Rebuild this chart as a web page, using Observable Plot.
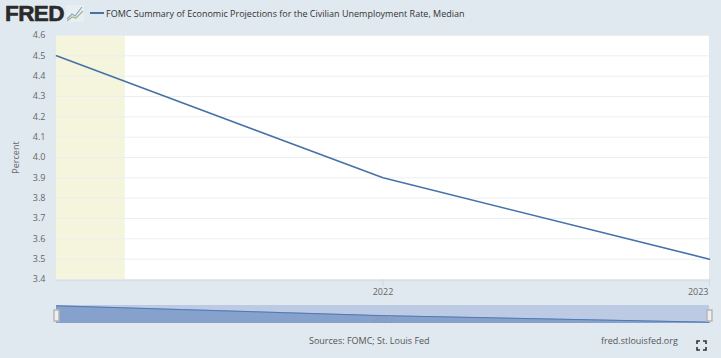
<!DOCTYPE html>
<html><head><meta charset="utf-8">
<script src="https://cdn.jsdelivr.net/npm/d3@7"></script>
<script src="https://cdn.jsdelivr.net/npm/@observablehq/plot@0.6"></script>
<style>
html,body{margin:0;padding:0;background:#e1e9f0;width:721px;height:358px;overflow:hidden;font-family:"Open Sans",sans-serif;color:#333}
#wrap{position:relative;width:721px;height:358px}
#main,#nav{position:absolute;left:0}
#main{top:0}#nav{top:300px}
svg{display:block;background:transparent!important}
.t{position:absolute;white-space:nowrap}
</style></head><body><div id="wrap">
<div id="main"></div><div id="nav"></div>
<div class="t" style="left:5px;top:0px;font:900 22.5px/28px 'Liberation Sans',sans-serif;color:#2a2a2a;-webkit-text-stroke:0.6px #2a2a2a;letter-spacing:-0.6px">FRED</div>
<svg class="t" style="left:66px;top:5px" width="18" height="17" viewBox="0 0 18 17"><rect width="18" height="17" fill="#e9eef1"/><path d="M1 14L6 9L9 11L16 2" stroke="#8aa6c8" stroke-width="1.2" fill="none"/><path d="M1 16L6 12L10 13L17 6" stroke="#a3b58a" stroke-width="1.2" fill="none"/></svg>
<svg class="t" style="left:90px;top:12px" width="14" height="3"><rect width="14" height="2" y="0" fill="#4572a7"/></svg>
<div class="t" style="left:106px;top:6px;font-size:9px;line-height:16px;color:#333">FOMC Summary of Economic Projections for the Civilian Unemployment Rate, Median</div>
<div class="t" style="left:309px;top:334px;font-size:9px;line-height:14px;color:#555">Sources: FOMC; St. Louis Fed</div>
<div class="t" style="left:601px;top:334px;font-size:9px;line-height:14px;color:#555">fred.stlouisfed.org</div>
<svg class="t" style="left:696px;top:340px" width="11" height="11" viewBox="0 0 11 11"><path d="M1 4V1H4M7 1H10V4M10 7V10H7M4 10H1V7" stroke="#333" stroke-width="1.6" fill="none"/></svg>
</div>
<script>
const dates = ["2021-01-01","2022-01-01","2023-01-01"].map(d=>new Date(d));
const values = [4.5,3.9,3.5];
const yTicks = [3.4,3.5,3.6,3.7,3.8,3.9,4.0,4.1,4.2,4.3,4.4,4.5,4.6];
const xTicks = ["2022-01-01","2023-01-01"].map(d=>new Date(d));
const shadeStart = [new Date("2021-01-01")];
const shadeEnd = [new Date("2021-03-19")];
const yLabel = "Percent";
const rows = dates.map((d,i)=>({d,v:values[i]}));
const xDomain = [dates[0],dates[2]];
const fmt = d3.utcFormat("%Y");
const handle = {draw(c){c.moveTo(-2.5,-5.5);c.lineTo(2.5,-5.5);c.lineTo(2.5,5.5);c.lineTo(-2.5,5.5);c.closePath();}};

const main = Plot.plot({
  width:721,height:300,marginLeft:56,marginRight:12,marginTop:35,marginBottom:21,
  style:{background:"transparent",fontFamily:"'Open Sans',sans-serif",fontSize:"9px",color:"#666",overflow:"visible"},
  x:{type:"utc",domain:xDomain,axis:null},
  y:{type:"linear",domain:[3.4,4.6],axis:null},
  marks:[
    Plot.rect([0],{x1:xDomain[0],x2:xDomain[1],y1:3.4,y2:4.6,fill:"#fff"}),
    Plot.rect(shadeStart,{x1:shadeStart[0],x2:shadeEnd[0],y1:3.4,y2:4.6,fill:"#f4f5dc"}),
    Plot.ruleY(yTicks,{stroke:"#ebeef0",strokeWidth:1}),
    Plot.ruleY([3.4],{stroke:"#d8dfe8",strokeWidth:2,dy:1}),
    Plot.ruleX(xTicks,{x:d=>d,y1:3.4,y2:3.365,stroke:"#cfd9e6"}),
    Plot.text(yTicks,{x:xDomain[0],y:d=>d,text:d=>d.toFixed(1),textAnchor:"end",dx:-11,fill:"#666"}),
    Plot.text(xTicks.slice(0,1),{x:d=>d,y:3.4,text:fmt,dy:13,fill:"#666",textAnchor:"middle"}),
    Plot.text(xTicks.slice(1),{x:d=>d,y:3.4,text:fmt,dy:13,dx:-1,fill:"#666",textAnchor:"end"}),
    Plot.text([yLabel],{x:xDomain[0],y:4.0,rotate:-90,textAnchor:"middle",dx:-40,fill:"#666"}),
    Plot.line(rows,{x:"d",y:"v",stroke:"#4572a7",strokeWidth:1.6})
  ]
});
document.getElementById("main").append(main);

const nav = Plot.plot({
  width:721,height:26,marginLeft:56,marginRight:12,marginTop:5,marginBottom:3,
  style:{background:"transparent",overflow:"visible",fontFamily:"'Open Sans',sans-serif",fontSize:"9px"},
  x:{type:"utc",domain:xDomain,axis:null},
  y:{type:"linear",domain:[3.42,4.52],axis:null},
  marks:[
    Plot.rect([0],{x1:xDomain[0],x2:xDomain[1],y1:3.42,y2:4.52,fill:"#bccae3"}),
    Plot.areaY(rows,{x:"d",y1:3.42,y2:"v",fill:"#86a1cb"}),
    Plot.line(rows,{x:"d",y:"v",stroke:"#4f7ab5",strokeWidth:1}),
    Plot.text(xTicks.slice(0,1),{x:d=>d,y:3.62,text:fmt,fill:"#8a9bb5"}),
    Plot.dot(xDomain,{x:d=>d,y:3.91,symbol:handle,fill:"#efefef",stroke:"#b5b5b5",strokeWidth:1.4})
  ]
});
document.getElementById("nav").append(nav);
</script></body></html>
